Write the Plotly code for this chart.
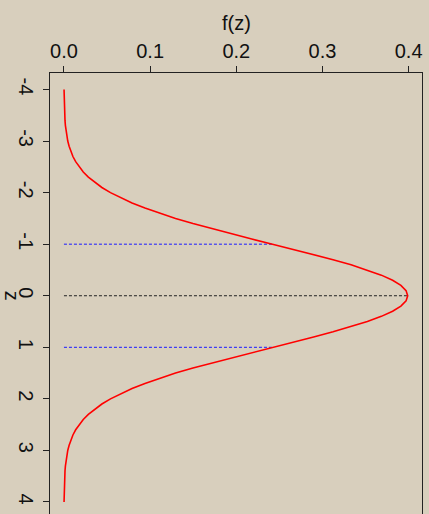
import plotly.graph_objects as go

# Standard normal density (z on vertical axis, f(z) on horizontal)
z_vals = [-4.0, -3.9, -3.8, -3.7, -3.6, -3.5, -3.4, -3.3, -3.2, -3.1,
          -3.0, -2.9, -2.8, -2.7, -2.6, -2.5, -2.4, -2.3, -2.2, -2.1,
          -2.0, -1.9, -1.8, -1.7, -1.6, -1.5, -1.4, -1.3, -1.2, -1.1,
          -1.0, -0.9, -0.8, -0.7, -0.6, -0.5, -0.4, -0.3, -0.2, -0.1,
          0.0, 0.1, 0.2, 0.3, 0.4, 0.5, 0.6, 0.7, 0.8, 0.9,
          1.0, 1.1, 1.2, 1.3, 1.4, 1.5, 1.6, 1.7, 1.8, 1.9,
          2.0, 2.1, 2.2, 2.3, 2.4, 2.5, 2.6, 2.7, 2.8, 2.9,
          3.0, 3.1, 3.2, 3.3, 3.4, 3.5, 3.6, 3.7, 3.8, 3.9, 4.0]
f_vals = [0.0001, 0.0002, 0.0003, 0.0004, 0.0006, 0.0009, 0.0012, 0.0017, 0.0024, 0.0033,
          0.0044, 0.0060, 0.0079, 0.0104, 0.0136, 0.0175, 0.0224, 0.0283, 0.0355, 0.0440,
          0.0540, 0.0656, 0.0790, 0.0940, 0.1109, 0.1295, 0.1497, 0.1714, 0.1942, 0.2179,
          0.2420, 0.2661, 0.2897, 0.3123, 0.3332, 0.3521, 0.3683, 0.3814, 0.3910, 0.3970,
          0.3989, 0.3970, 0.3910, 0.3814, 0.3683, 0.3521, 0.3332, 0.3123, 0.2897, 0.2661,
          0.2420, 0.2179, 0.1942, 0.1714, 0.1497, 0.1295, 0.1109, 0.0940, 0.0790, 0.0656,
          0.0540, 0.0440, 0.0355, 0.0283, 0.0224, 0.0175, 0.0136, 0.0104, 0.0079, 0.0060,
          0.0044, 0.0033, 0.0024, 0.0017, 0.0012, 0.0009, 0.0006, 0.0004, 0.0003, 0.0002, 0.0001]

# Reference lines at z = -1, 0, 1
ref_z = [-1.0, 0.0, 1.0]
ref_f = [0.2420, 0.3989, 0.2420]
ref_colors = ["#1a1aff", "#222222", "#1a1aff"]

x_ticks = [0.0, 0.1, 0.2, 0.3, 0.4]
x_tick_text = ["0.0", "0.1", "0.2", "0.3", "0.4"]
y_ticks = [-4, -3, -2, -1, 0, 1, 2, 3, 4]
y_tick_text = ["-4", "-3", "-2", "-1", "0", "1", "2", "3", "4"]

bg = "#d8cfbd"
font = dict(family="Liberation Sans, Arial, sans-serif", size=20, color="#111111")

fig = go.Figure()
for zz, ff, cc in zip(ref_z, ref_f, ref_colors):
    fig.add_trace(go.Scatter(x=[0, ff], y=[zz, zz], mode="lines",
                             line=dict(color=cc, width=1, dash="3px,2px"),
                             hoverinfo="skip", showlegend=False))
fig.add_trace(go.Scatter(x=f_vals, y=z_vals, mode="lines",
                         line=dict(color="#ff0000", width=1.6),
                         showlegend=False))

fig.update_layout(
    width=429, height=514,
    margin=dict(l=50, r=7, t=73, b=0),
    paper_bgcolor=bg, plot_bgcolor=bg,
    font=font,
    showlegend=False,
    xaxis=dict(side="top", range=[-0.0162, 0.4155], tickvals=x_ticks, ticktext=x_tick_text,
               showgrid=False, zeroline=False, showline=True, linecolor="#222222", linewidth=1.2,
               ticks="outside", ticklen=6, tickcolor="#222222", tickwidth=1,
               tickfont=font),
    yaxis=dict(range=[4.233, -4.32], tickvals=y_ticks, ticktext=y_tick_text,
               showgrid=False, zeroline=False, showline=True, mirror=True,
               linecolor="#222222", linewidth=1.2,
               ticks="outside", ticklen=6, tickcolor="#222222", tickwidth=1,
               tickangle=90, tickfont=font),
    annotations=[
        dict(text="f(z)", xref="x", yref="paper", x=0.2, y=1 + (73 - 23) / 441.0,
             showarrow=False, xanchor="center", yanchor="middle", font=font),
        dict(text="z", xref="paper", yref="y", x=(12 - 50) / 372.0, y=0,
             showarrow=False, xanchor="center", yanchor="middle", textangle=90, font=font),
    ],
)

fig.write_html("out.html")
